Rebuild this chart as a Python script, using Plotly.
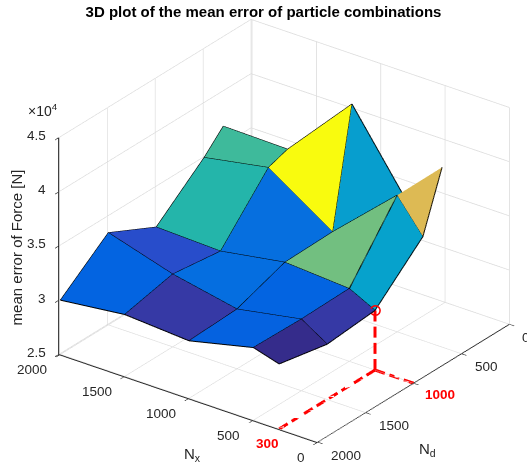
import plotly.graph_objects as go

nx_values = [2000, 1500, 1000, 500, 300]
nd_values = [2000, 1500, 1000, 500, 300]
# rows follow nd_values, columns follow nx_values
mean_error = [
    [30000, 30700, 30300, 31700, 31000],
    [33500, 31700, 30500, 31600, 30100],
    [31300, 31100, 32100, 31700, 30500],
    [35000, 36100, 32200, 37600, 34600],
    [36800, 36700, 42900, 34400, 39900],
]
tick_vals = [0, 500, 1000, 1500, 2000]
z_tick_vals = [25000, 30000, 35000, 40000, 45000]
z_tick_text = ["2.5", "3", "3.5", "4", "4.5"]
picked_nx = 300
picked_nd = 1000
picked_err = 30500

parula_rgb = [
    (.2081, .1663, .5292), (.2116, .1898, .5777), (.2123, .2138, .6270), (.2081, .2386, .6771),
    (.1959, .2645, .7279), (.1707, .2919, .7792), (.1253, .3242, .8303), (.0591, .3598, .8683),
    (.0117, .3875, .8820), (.0060, .4086, .8828), (.0165, .4266, .8786), (.0329, .4430, .8720),
    (.0498, .4586, .8641), (.0629, .4737, .8554), (.0723, .4887, .8467), (.0779, .5040, .8384),
    (.0793, .5200, .8312), (.0749, .5375, .8263), (.0641, .5570, .8240), (.0488, .5772, .8228),
    (.0343, .5966, .8199), (.0265, .6137, .8135), (.0239, .6287, .8038), (.0231, .6418, .7913),
    (.0228, .6535, .7768), (.0267, .6642, .7607), (.0384, .6743, .7436), (.0590, .6838, .7254),
    (.0843, .6928, .7062), (.1133, .7015, .6859), (.1453, .7098, .6646), (.1801, .7177, .6424),
    (.2178, .7250, .6193), (.2586, .7317, .5954), (.3022, .7376, .5712), (.3482, .7424, .5473),
    (.3953, .7459, .5244), (.4420, .7481, .5033), (.4871, .7491, .4840), (.5300, .7491, .4661),
    (.5709, .7485, .4494), (.6099, .7473, .4337), (.6473, .7456, .4188), (.6834, .7435, .4044),
    (.7184, .7411, .3905), (.7525, .7384, .3768), (.7858, .7356, .3633), (.8185, .7327, .3498),
    (.8507, .7299, .3360), (.8824, .7274, .3217), (.9139, .7258, .3063), (.9450, .7261, .2886),
    (.9739, .7314, .2666), (.9938, .7455, .2403), (.9990, .7653, .2164), (.9955, .7861, .1967),
    (.9880, .8066, .1794), (.9789, .8271, .1633), (.9697, .8481, .1475), (.9626, .8705, .1309),
    (.9589, .8949, .1132), (.9598, .9218, .0948), (.9661, .9514, .0755), (.9763, .9831, .0538),
]
parula = [[i / 63, f"rgb({r*255:.0f},{g*255:.0f},{b*255:.0f})"] for i, (r, g, b) in enumerate(parula_rgb)]

TEXT = "rgb(38,38,38)"
RED = "rgb(255,0,0)"
FONT = "Arial, Liberation Sans, sans-serif"

n = len(nx_values)
m = len(nd_values)
xs, ys, zs, ii, jj, kk, cell = [], [], [], [], [], [], []
for r in range(m):
    for c in range(n):
        xs.append(nx_values[c])
        ys.append(nd_values[r])
        zs.append(mean_error[r][c])

for r in range(m - 1):
    for c in range(n - 1):
        a = r * n + c
        b = a + 1
        d = a + n
        e = d + 1
        ii += [a, a]
        jj += [b, e]
        kk += [e, d]
        cell += [mean_error[r + 1][c + 1]] * 2

ex, ey, ez = [], [], []
for r in range(m):
    for c in range(n):
        ex.append(nx_values[c]); ey.append(nd_values[r]); ez.append(mean_error[r][c])
    ex.append(None); ey.append(None); ez.append(None)
for c in range(n):
    for r in range(m):
        ex.append(nx_values[c]); ey.append(nd_values[r]); ez.append(mean_error[r][c])
    ex.append(None); ey.append(None); ez.append(None)

fig = go.Figure()
fig.add_trace(go.Mesh3d(
    x=xs, y=ys, z=zs, i=ii, j=jj, k=kk,
    intensity=cell, intensitymode="cell", colorscale=parula,
    cmin=min(zs), cmax=max(zs), showscale=False, flatshading=True,
    lighting=dict(ambient=1, diffuse=0, specular=0, roughness=1, fresnel=0),
    hoverinfo="skip",
))
fig.add_trace(go.Scatter3d(
    x=ex, y=ey, z=ez, mode="lines", line=dict(color="black", width=2),
    hoverinfo="skip", showlegend=False,
))
floor = z_tick_vals[0]


def dashes(p, q, count):
    """Break the leader p-q into count dashes, the last one reaching q."""
    out = [[], [], []]
    step = 1 / (count - 0.32)
    for s in range(count):
        t0 = s * step
        t1 = t0 + 0.68 * step
        for axis_i in range(3):
            out[axis_i] += [p[axis_i] + (q[axis_i] - p[axis_i]) * t0,
                            p[axis_i] + (q[axis_i] - p[axis_i]) * t1, None]
    return out


leaders = [
    dashes((picked_nx, picked_nd, picked_err), (picked_nx, picked_nd, floor), 4),
    dashes((picked_nx, picked_nd, floor), (picked_nx, nd_values[0], floor), 8),
    dashes((picked_nx, picked_nd, floor), (0, picked_nd, floor), 3),
]
for seg in leaders:
    fig.add_trace(go.Scatter3d(
        x=seg[0], y=seg[1], z=seg[2],
        mode="lines", line=dict(color=RED, width=6),
        hoverinfo="skip", showlegend=False,
    ))
fig.add_trace(go.Scatter3d(
    x=[picked_nx], y=[picked_nd], z=[picked_err], mode="markers",
    marker=dict(symbol="circle-open", size=6, color=RED, line=dict(color=RED, width=1.5)),
    hoverinfo="skip", showlegend=False,
))


def axis(**kw):
    return dict(
        showbackground=False, showgrid=True, gridcolor="rgb(218,218,218)", gridwidth=1.5,
        showline=True, linecolor=TEXT, linewidth=2, zeroline=False,
        ticks="outside", ticklen=6, tickcolor=TEXT, tickwidth=1.5, showticklabels=False,
        showspikes=False, title=dict(text=""),
        **kw,
    )


tick_font = dict(family=FONT, size=13.5, color=TEXT)
title_font = dict(family=FONT, size=15, color=TEXT)
red_font = dict(family=FONT, size=13.5, color=RED)
Z_TOP = 44999  # an annotation exactly on the range end is dropped
annots = [
    dict(x=1000, y=2000, z=floor, text="N<sub>x</sub>", xshift=3, yshift=-56, showarrow=False, font=title_font),
    dict(x=0, y=1000, z=floor, text="N<sub>d</sub>", xshift=14, yshift=-66, showarrow=False, font=title_font),
    dict(x=2000, y=2000, z=35000, text="mean error of Force [N]", textangle=-90, xshift=-43, yshift=-1,
         showarrow=False, font=title_font),
    dict(x=2000, y=2000, z=Z_TOP, text="×10<sup>4</sup>", xshift=-17, yshift=28, showarrow=False,
         font=dict(family=FONT, size=14, color=TEXT)),
    dict(x=picked_nx, y=2000, z=floor, text=f"<b>{picked_nx}</b>", xshift=-12, yshift=-15, showarrow=False, font=red_font),
    dict(x=0, y=picked_nd, z=floor, text=f"<b>{picked_nd}</b>", xshift=26, yshift=-11, showarrow=False, font=red_font),
]
for v in tick_vals:
    annots.append(dict(x=v, y=2000, z=floor, text=str(v), xanchor="right", xshift=-11, yshift=-15,
                       showarrow=False, font=tick_font))
    if v != picked_nd:
        annots.append(dict(x=0, y=v, z=floor, text=str(v), xanchor="left", xshift=11, yshift=-13,
                           showarrow=False, font=tick_font))
for v, t in zip(z_tick_vals, z_tick_text):
    annots.append(dict(x=2000, y=2000, z=min(v, Z_TOP), text=t, xanchor="right", xshift=-12, yshift=2,
                       showarrow=False, font=tick_font))

box_scale = 1.389 * 1.004
look = dict(x=0.0713, y=0.0531, z=0)
view_dir = (-0.531 * 1.6, 0.713 * 1.6, 0.458 * 1.6)
fig.update_layout(
    width=527, height=471, autosize=False, showlegend=False,
    paper_bgcolor="white",
    margin=dict(l=0, r=0, t=0, b=0),
    title=dict(text="<b>3D plot of the mean error of particle combinations</b>",
               x=0.5, xanchor="center", y=0.974, yanchor="middle",
               font=dict(family=FONT, size=15, color="black")),
    scene=dict(
        domain=dict(x=[0, 1], y=[0.0192, 1]),
        xaxis=axis(range=[0, 2008], tickvals=tick_vals, ticktext=[str(v) for v in tick_vals]),
        yaxis=axis(range=[0, 2008], tickvals=tick_vals, ticktext=[str(v) for v in tick_vals]),
        zaxis=axis(range=[25000, 45000], tickvals=z_tick_vals, ticktext=z_tick_text),
        aspectmode="manual",
        aspectratio=dict(x=box_scale, y=box_scale, z=0.76 * 1.389),
        camera=dict(
            projection=dict(type="orthographic"),
            up=dict(x=0, y=0, z=1), center=look,
            eye=dict(x=look["x"] + view_dir[0], y=look["y"] + view_dir[1], z=look["z"] + view_dir[2]),
        ),
        annotations=annots,
    ),
)
fig.write_html("out.html", config=dict(displayModeBar=False),
               post_script="document.body.style.margin='0';document.body.style.overflow='hidden';")
